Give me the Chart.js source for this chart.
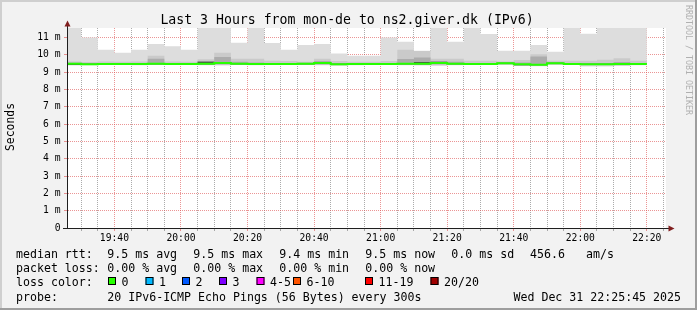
<!DOCTYPE html>
<html><head><meta charset="utf-8">
<script src="https://cdn.jsdelivr.net/npm/chart.js@4/dist/chart.umd.min.js"></script>
<style>html,body{margin:0;padding:0;background:#f2f2f2;}canvas{display:block;}</style>
</head><body>
<canvas id="c" width="697" height="310"></canvas>
<script>
// ---- data ----
const sampleTimes = ['19:25:45','19:30','19:35','19:40','19:45','19:50','19:55',
  '20:00','20:05','20:10','20:15','20:20','20:25','20:30','20:35','20:40','20:45','20:50','20:55',
  '21:00','21:05','21:10','21:15','21:20','21:25','21:30','21:35','21:40','21:45','21:50','21:55',
  '22:00','22:05','22:10','22:15','22:20'];
const medianRtt = [9.48,9.46,9.47,9.47,9.47,9.48,9.47,9.47,9.48,9.53,9.48,9.47,9.47,9.47,9.48,9.53,9.46,9.47,9.47,9.47,9.48,9.48,9.53,9.48,9.47,9.47,9.52,9.45,9.43,9.52,9.47,9.46,9.46,9.47,9.47];
const pingMax   = [12.6,11.0,10.3,10.12,10.3,10.62,10.5,10.3,12.9,12.2,10.7,13.4,10.68,10.3,10.57,10.62,10.08,9.95,9.95,11.0,10.76,10.24,12.1,10.76,12.8,11.2,10.24,10.24,10.57,10.18,12.4,11.22,12.7,11.9,12.3];
const pingMin   = [9.39,9.40,9.41,9.41,9.40,9.41,9.41,9.41,9.40,9.38,9.41,9.40,9.41,9.41,9.41,9.40,9.37,9.40,9.41,9.41,9.40,9.38,9.37,9.40,9.41,9.41,9.41,9.37,9.34,9.41,9.41,9.33,9.32,9.35,9.40];
const band2Hi   = [9.62,9.58,9.62,9.60,9.62,9.95,9.62,9.60,9.75,10.12,9.78,9.78,9.66,9.64,9.60,9.78,9.64,9.60,9.60,9.64,10.3,10.22,9.78,9.78,9.66,9.66,9.62,9.70,10.03,9.66,9.66,9.66,9.72,9.80,9.66];
const band2Lo   = [9.41,9.42,9.43,9.43,9.43,9.43,9.43,9.43,9.42,9.41,9.43,9.43,9.43,9.43,9.43,9.42,9.40,9.43,9.43,9.43,9.42,9.41,9.40,9.42,9.43,9.43,9.43,9.39,9.36,9.43,9.43,9.38,9.38,9.38,9.43];
const band4Hi   = [9.54,9.52,9.53,9.53,9.53,9.78,9.53,9.53,9.64,9.88,9.60,9.56,9.53,9.53,9.54,9.64,9.52,9.53,9.53,9.53,9.76,9.84,9.62,9.60,9.53,9.53,9.57,9.56,9.90,9.57,9.53,9.52,9.52,9.58,9.53];
const band4Lo   = [9.42,9.42,9.44,9.44,9.44,9.44,9.44,9.44,9.44,9.46,9.44,9.44,9.44,9.44,9.44,9.46,9.42,9.44,9.44,9.44,9.44,9.43,9.45,9.44,9.44,9.44,9.47,9.40,9.37,9.47,9.44,9.42,9.42,9.43,9.44];
const darkHi    = [9.50,9.48,9.49,9.49,9.49,9.52,9.49,9.49,9.60,9.56,9.51,9.49,9.49,9.49,9.50,9.56,9.48,9.49,9.49,9.49,9.52,9.58,9.60,9.52,9.49,9.49,9.54,9.47,9.47,9.54,9.49,9.48,9.48,9.49,9.49];
const darkLo    = [9.41,9.41,9.46,9.46,9.46,9.46,9.46,9.46,9.46,9.50,9.46,9.46,9.46,9.46,9.46,9.50,9.41,9.46,9.46,9.46,9.46,9.46,9.50,9.46,9.46,9.46,9.50,9.40,9.41,9.50,9.46,9.45,9.45,9.46,9.46];
const gridTimes  = ['19:30','19:35','19:40','19:45','19:50','19:55','20:00','20:05','20:10','20:15','20:20','20:25','20:30','20:35','20:40','20:45','20:50','20:55','21:00','21:05','21:10','21:15','21:20','21:25','21:30','21:35','21:40','21:45','21:50','21:55','22:00','22:05','22:10','22:15','22:20','22:25'];
const majorTimes = ['19:40','20:00','20:20','20:40','21:00','21:20','21:40','22:00','22:20'];
const rttTicks  = [0,0.5,1,1.5,2,2.5,3,3.5,4,4.5,5,5.5,6,6.5,7,7.5,8,8.5,9,9.5,10,10.5,11,11.5];
const rttLabels = ['0','1 m','2 m','3 m','4 m','5 m','6 m','7 m','8 m','9 m','10 m','11 m'];
const rangeStart = '19:25:45', rangeEnd = '22:25:45', rttTop = 11.55;
const lossLabels = ['0','1','2','3','4-5','6-10','11-19','20/20'];
const lossColors = ['#26ff00','#00b8ff','#0059ff','#7e00ff','#ff00ff','#ff5500','#ff0000','#a00000'];
const statsRtt  = ['9.5 ms avg','9.5 ms max','9.4 ms min','9.5 ms now','0.0 ms sd','456.6','am/s'];
const statsLoss = ['0.00 % avg','0.00 % max','0.00 % min','0.00 % now'];
const titleText = 'Last 3 Hours from mon-de to ns2.giver.dk (IPv6)';
const probeText = '20 IPv6-ICMP Echo Pings (56 Bytes) every 300s';
const dateText  = 'Wed Dec 31 22:25:45 2025';

// ---- helpers ----
function toMin(t){ const p = t.split(':').map(Number); return p[0]*60 + p[1] + (p[2]||0)/60; }
function series(vals){
  const pts = vals.map((v,i)=>({x: toMin(sampleTimes[i]), y: v}));
  pts.push({x: toMin(sampleTimes[vals.length]), y: vals[vals.length-1]});
  return pts;
}
function edge(vals, order){ return {data: series(vals), borderWidth:0, borderColor:'rgba(0,0,0,0)', pointRadius:0, fill:false, stepped:'before', order}; }
function band(vals, color, order){ return {data: series(vals), borderWidth:0, borderColor:'rgba(0,0,0,0)', pointRadius:0, fill:'-1', backgroundColor:color, stepped:'before', order}; }
const majorSet = majorTimes.map(toMin);
const isMajorX = v => majorSet.some(m => Math.abs(m - v) < 1e-6);
const GRID = 'rgba(143,143,143,0.75)', MGRID = 'rgba(222,79,79,0.6)', AXIS = '#1f1f1f', ARROW = '#801f1f';
const MONO = '"DejaVu Sans Mono", monospace';
const pad2 = n => String(n).padStart(2,'0');
const yCol = c => !c.tick ? GRID : (c.tick.value === 0 ? AXIS : (Number.isInteger(c.tick.value) ? MGRID : GRID));
const xCol = c => (c.tick && isMajorX(c.tick.value)) ? MGRID : GRID;

const decor = {
  id: 'decor',
  beforeDraw(chart){
    const {ctx, chartArea:a, width:w, height:h} = chart;
    ctx.save();
    ctx.fillStyle = '#f2f2f2'; ctx.fillRect(0,0,w,h);
    ctx.fillStyle = '#cfcfcf'; ctx.fillRect(0,0,w,2); ctx.fillRect(0,0,2,h);
    ctx.fillStyle = '#9e9e9e'; ctx.fillRect(0,h-2,w,2); ctx.fillRect(w-2,0,2,h);
    ctx.fillStyle = '#ffffff'; ctx.fillRect(a.left, a.top, a.right-a.left, a.bottom-a.top);
    ctx.restore();
  },
  afterDraw(chart){
    const {ctx, chartArea:a} = chart;
    ctx.save();
    ctx.setLineDash([]);
    ctx.strokeStyle = AXIS; ctx.lineWidth = 1;
    ctx.beginPath();
    ctx.moveTo(a.left+0.5, a.bottom); ctx.lineTo(a.left+0.5, a.top-3);
    ctx.moveTo(a.left-4, a.bottom+0.5); ctx.lineTo(a.right+3, a.bottom+0.5);
    ctx.stroke();
    ctx.fillStyle = ARROW;
    ctx.beginPath(); ctx.moveTo(a.left+0.5, a.top-7.5); ctx.lineTo(a.left+3.5, a.top-1.5); ctx.lineTo(a.left-2.5, a.top-1.5); ctx.closePath(); ctx.fill();
    ctx.beginPath(); ctx.moveTo(a.right+8.5, a.bottom+0.5); ctx.lineTo(a.right+2.5, a.bottom-2.5); ctx.lineTo(a.right+2.5, a.bottom+3.5); ctx.closePath(); ctx.fill();
    ctx.fillStyle = '#000';
    ctx.font = '13.2px ' + MONO; ctx.textAlign = 'center'; ctx.textBaseline = 'alphabetic';
    ctx.fillText(titleText, 347, 23.5);
    ctx.save(); ctx.translate(11, 127); ctx.rotate(-Math.PI/2);
    ctx.font = '11.4px ' + MONO; ctx.textBaseline = 'middle'; ctx.fillText('Seconds', 0, 0); ctx.restore();
    ctx.save(); ctx.translate(688, 5); ctx.rotate(Math.PI/2);
    ctx.font = '8.3px ' + MONO; ctx.textAlign = 'left'; ctx.textBaseline = 'middle'; ctx.fillStyle = '#b0b0b0';
    ctx.fillText('RRDTOOL / TOBI OETIKER', 0, 0); ctx.restore();
    ctx.font = '11.6px ' + MONO; ctx.textAlign = 'left'; ctx.textBaseline = 'alphabetic'; ctx.fillStyle = '#000';
    const y1 = 257.5, y2 = 271.8, y3 = 286, y4 = 300.5;
    ctx.fillText('median rtt:', 16, y1);
    const rttX = [107.3,193.3,279.3,365.3,451.3,530,586];
    statsRtt.forEach((s,i)=>ctx.fillText(s, rttX[i], y1));
    ctx.fillText('packet loss:', 16, y2);
    statsLoss.forEach((s,i)=>ctx.fillText(s, rttX[i], y2));
    ctx.fillText('loss color:', 16, y3);
    const boxX = [108,145.5,182,219,256.5,293,365,430.5];
    lossLabels.forEach((l,i)=>{
      ctx.fillStyle = lossColors[i]; ctx.fillRect(boxX[i], 277, 8, 8);
      ctx.strokeStyle = '#000'; ctx.lineWidth = 1; ctx.strokeRect(boxX[i]+0.5, 277.5, 7, 7);
      ctx.fillStyle = '#000'; ctx.fillText(l, boxX[i]+13.5, y3);
    });
    ctx.fillText('probe:', 16, y4);
    ctx.fillText(probeText, 107.3, y4);
    ctx.textAlign = 'right'; ctx.fillText(dateText, 681, y4);
    ctx.restore();
  }
};

new Chart(document.getElementById('c'), {
  type: 'line',
  data: { datasets: [
    {data: series(medianRtt), borderColor:'#26ff00', borderWidth:2, pointRadius:0, fill:false, stepped:'before', order:0},
    edge(darkLo,1), band(darkHi,'#4a4a4a',1),
    edge(band4Lo,2), band(band4Hi,'#acacac',2),
    edge(band2Lo,3), band(band2Hi,'#cacaca',3),
    edge(pingMin,4), band(pingMax,'#dddddd',4)
  ]},
  options: {
    responsive:false, maintainAspectRatio:false, animation:false, devicePixelRatio:1,
    layout: { padding: {top:28, right:31, left:0, bottom:0} },
    plugins: { legend:{display:false}, tooltip:{enabled:false}, title:{display:false} },
    events: [],
    scales: {
      x: {
        type:'linear', min: toMin(rangeStart), max: toMin(rangeEnd), z:1,
        afterBuildTicks: s => { s.ticks = gridTimes.map(t => ({value: toMin(t)})); },
        afterFit: s => { s.height = 82; },
        ticks: { autoSkip:false, maxRotation:0, minRotation:0, padding:2, color:'#000',
          font:{family:'DejaVu Sans Mono', size:9.7},
          callback: v => isMajorX(v) ? pad2(Math.floor(v/60)) + ':' + pad2(Math.round(v%60)) : '' },
        grid: { color: xCol, tickColor: xCol, tickLength:3, lineWidth:1,
          borderDash:[1,1], tickBorderDash:[] },
        border: { color:AXIS, width:1, dash:[1,1] }
      },
      y: {
        type:'linear', min:0, max:rttTop, z:1,
        afterBuildTicks: s => { s.ticks = rttTicks.map(v => ({value:v})); },
        afterFit: s => { s.width = 67; },
        ticks: { padding:3.5, color:'#000', font:{family:'DejaVu Sans Mono', size:9.7},
          callback: v => Number.isInteger(v) ? rttLabels[v] : '' },
        grid: { color: yCol, tickColor: yCol, tickLength:3, lineWidth:1,
          borderDash:[1,1], tickBorderDash:[] },
        border: { color:AXIS, width:1, dash:[1,1] }
      }
    }
  },
  plugins: [decor]
});
</script>
</body></html>
